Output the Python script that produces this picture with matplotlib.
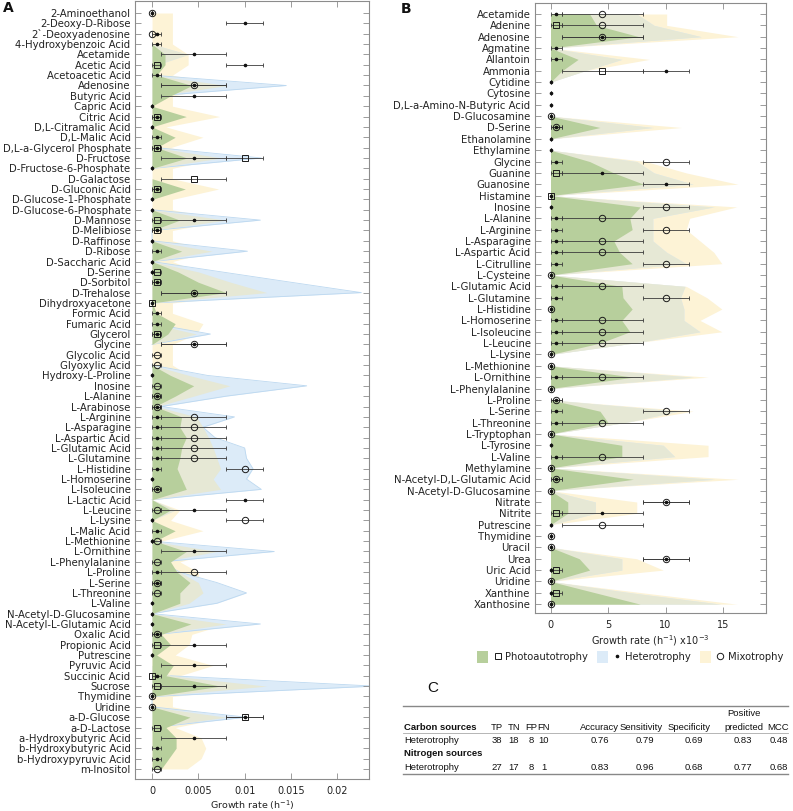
import numpy as np
import matplotlib
matplotlib.use("Agg")
import matplotlib.pyplot as plt
from matplotlib.patches import Patch
from matplotlib.lines import Line2D
from matplotlib.legend_handler import HandlerTuple

n = np.nan

# ---------------- Panel A : carbon sources (growth rate, 1e-3 h^-1) ----------------
a_labels = ["2-Aminoethanol", "2-Deoxy-D-Ribose", "2`-Deoxyadenosine", "4-Hydroxybenzoic Acid",
            "Acetamide", "Acetic Acid", "Acetoacetic Acid", "Adenosine", "Butyric Acid", "Capric Acid",
            "Citric Acid", "D,L-Citramalic Acid", "D,L-Malic Acid", "D,L-a-Glycerol Phosphate",
            "D-Fructose", "D-Fructose-6-Phosphate", "D-Galactose", "D-Gluconic Acid",
            "D-Glucose-1-Phosphate", "D-Glucose-6-Phosphate", "D-Mannose", "D-Melibiose",
            "D-Raffinose", "D-Ribose", "D-Saccharic Acid", "D-Serine", "D-Sorbitol", "D-Trehalose",
            "Dihydroxyacetone", "Formic Acid", "Fumaric Acid", "Glycerol", "Glycine", "Glycolic Acid",
            "Glyoxylic Acid", "Hydroxy-L-Proline", "Inosine", "L-Alanine", "L-Arabinose",
            "L-Arginine", "L-Asparagine", "L-Aspartic Acid", "L-Glutamic Acid", "L-Glutamine",
            "L-Histidine", "L-Homoserine", "L-Isoleucine", "L-Lactic Acid", "L-Leucine", "L-Lysine",
            "L-Malic Acid", "L-Methionine", "L-Ornithine", "L-Phenylalanine", "L-Proline",
            "L-Serine", "L-Threonine", "L-Valine", "N-Acetyl-D-Glucosamine",
            "N-Acetyl-L-Glutamic Acid", "Oxalic Acid", "Propionic Acid", "Putrescine",
            "Pyruvic Acid", "Succinic Acid", "Sucrose", "Thymidine", "Uridine", "a-D-Glucose",
            "a-D-Lactose", "a-Hydroxybutyric Acid", "b-Hydroxybutyric Acid",
            "b-Hydroxypyruvic Acid", "m-Inositol"]

a_photo_area = [0, 0, 0, 0, 1.4, 1.4, 0.5, 4.3, 2.0, 0,
                3.7, 0, 2.5, 0.5, 3.8, 0, 0, 3.6, 0, 0,
                3.0, 0, 0, 3.2, 0, 2.8, 5.0, 8.0, 0, 0.5,
                2.5, 1.7, 0, 0, 0, 2.0, 4.5, 2.5, 0.3, 3.2,
                3.0, 3.7, 3.2, 3.0, 2.7, 3.2, 3.7, 0, 2.0, 0,
                2.5, 0.3, 3.7, 2.0, 2.7, 4.1, 3.0, 3.0, 0, 4.2,
                1.0, 2.0, 0.5, 2.3, 1.5, 7.4, 0, 0, 4.1, 1.5,
                2.6, 2.6, 1.8, 1.0]
a_hetero_area = [0, 0, 0, 0, 3.9, 0.5, 0, 14.5, 0.5, 0,
                 0, 0, 0, 0.5, 11.8, 0, 0, 0, 0, 0,
                 11.7, 0, 0, 10.3, 0, 7.5, 15.0, 22.6, 0, 0,
                 0, 6.3, 0, 0, 0, 6.0, 16.7, 8.0, 1.0, 8.9,
                 5.5, 6.8, 10.0, 10.2, 10.9, 10.2, 11.8, 0, 2.5, 0,
                 0, 0, 13.2, 1.0, 3.0, 7.0, 10.2, 7.0, 0, 11.7,
                 0.5, 0, 0, 0, 2.0, 24.0, 0, 0, 10.2, 0,
                 0, 0, 0, 0]
a_mixo_area = [2.2, 2.2, 2.2, 2.2, 3.9, 3.9, 2.2, 8.1, 2.2, 2.2,
               7.3, 1.5, 5.5, 2.0, 7.5, 2.2, 2.2, 7.2, 2.2, 2.2,
               8.0, 2.2, 2.2, 6.5, 2.2, 5.0, 8.5, 12.4, 2.2, 2.2,
               5.5, 4.8, 2.2, 2.2, 2.2, 4.0, 8.4, 4.5, 0.5, 4.8,
               5.5, 6.1, 6.6, 7.0, 7.4, 6.6, 7.4, 0, 3.0, 2.0,
               5.5, 1.0, 7.0, 3.0, 5.0, 5.0, 5.5, 4.0, 0, 8.0,
               4.3, 4.0, 2.5, 6.6, 3.0, 12.4, 2.2, 2.2, 8.0, 2.5,
               5.3, 5.8, 5.3, 3.8]

a_photo = [n, n, n, n, n, .5, n, n, n, n,
           .5, n, n, .5, 10, n, 4.5, .5, n, n,
           .5, .5, n, n, n, .5, .5, n, 0, n,
           n, .5, n, n, n, n, n, n, n, n,
           n, n, n, n, n, n, n, n, n, n,
           n, n, n, n, n, n, n, n, n, n,
           n, .5, n, n, 0, .5, n, n, 10, .5,
           n, n, n, n]
a_photo_err = [n, n, n, n, n, .5, n, n, n, n,
               .5, n, n, .5, 2, n, 3.5, .5, n, n,
               .5, .5, n, n, n, .5, .5, n, 0, n,
               n, .5, n, n, n, n, n, n, n, n,
               n, n, n, n, n, n, n, n, n, n,
               n, n, n, n, n, n, n, n, n, n,
               n, .5, n, n, 0, .5, n, n, 2, .5,
               n, n, n, n]
a_hetero = [0, 10, .5, .5, 4.5, 10, .5, 4.5, 4.5, 0,
            .5, 0, .5, .5, 4.5, 0, n, .5, 0, 0,
            4.5, .5, 0, .5, 0, 0, .5, 4.5, 0, .5,
            .5, .5, 4.5, n, n, 0, n, .5, .5, .5,
            .5, .5, .5, .5, .5, 0, .5, 10, 4.5, 0,
            .5, 0, 4.5, n, .5, .5, n, 0, 0, 0,
            .5, 4.5, 0, 4.5, .5, 4.5, 0, 0, 10, n,
            4.5, .5, .5, n]
a_hetero_err = [0, 2, .5, .5, 3.5, 2, .5, 3.5, 3.5, 0,
                .5, 0, .5, .5, 3.5, 0, n, .5, 0, 0,
                3.5, .5, 0, .5, 0, 0, .5, 3.5, 0, .5,
                .5, .5, 3.5, n, n, 0, n, .5, .5, .5,
                .5, .5, .5, .5, .5, 0, .5, 2, 3.5, 0,
                .5, 0, 3.5, n, .5, .5, n, 0, 0, 0,
                .5, 3.5, 0, 3.5, .5, 3.5, 0, 0, 2, n,
                3.5, .5, .5, n]
a_mixo = [0, n, 0, n, n, n, n, 4.5, n, n,
          n, n, n, n, n, n, n, n, n, n,
          n, n, n, n, n, n, n, 4.5, n, n,
          n, n, 4.5, .5, .5, n, .5, .5, .5, 4.5,
          4.5, 4.5, 4.5, 4.5, 10, n, .5, n, .5, 10,
          n, .5, n, .5, 4.5, .5, .5, n, n, n,
          .5, n, n, n, n, n, 0, 0, n, n,
          n, n, n, .5]
a_mixo_err = [0, n, 0, n, n, n, n, 3.5, n, n,
              n, n, n, n, n, n, n, n, n, n,
              n, n, n, n, n, n, n, 3.5, n, n,
              n, n, 3.5, .5, .5, n, .5, .5, .5, 3.5,
              3.5, 3.5, 3.5, 3.5, 2, n, .5, n, .5, 2,
              n, .5, n, .5, 3.5, .5, .5, n, n, n,
              .5, n, n, n, n, n, 0, 0, n, n,
              n, n, n, .5]

# ---------------- Panel B : nitrogen sources (growth rate, 1e-3 h^-1) ----------------
b_labels = ["Acetamide", "Adenine", "Adenosine", "Agmatine", "Allantoin", "Ammonia", "Cytidine",
            "Cytosine", "D,L-a-Amino-N-Butyric Acid", "D-Glucosamine", "D-Serine", "Ethanolamine",
            "Ethylamine", "Glycine", "Guanine", "Guanosine", "Histamine", "Inosine", "L-Alanine",
            "L-Arginine", "L-Asparagine", "L-Aspartic Acid", "L-Citrulline", "L-Cysteine",
            "L-Glutamic Acid", "L-Glutamine", "L-Histidine", "L-Homoserine", "L-Isoleucine",
            "L-Leucine", "L-Lysine", "L-Methionine", "L-Ornithine", "L-Phenylalanine", "L-Proline",
            "L-Serine", "L-Threonine", "L-Tryptophan", "L-Tyrosine", "L-Valine", "Methylamine",
            "N-Acetyl-D,L-Glutamic Acid", "N-Acetyl-D-Glucosamine", "Nitrate", "Nitrite",
            "Putrescine", "Thymidine", "Uracil", "Urea", "Uric Acid", "Uridine", "Xanthine",
            "Xanthosine"]

b_photo_area = [3.4, 4.0, 7.7, 0, 2.4, 1.0, 0, 0, 0, 0,
                4.3, 0, 0, 3.4, 5.5, 8.1, 0, 7.8, 6.9, 7.1,
                5.5, 6.0, 7.1, 0, 6.2, 6.3, 7.1, 6.2, 6.9, 4.3,
                0, 0, 7.2, 0, 0, 4.3, 5.0, 0, 6.2, 6.2,
                0, 7.2, 0, 1.5, 1.5, 0, 0, 0, 2.5, 3.4,
                0, 3.9, 7.8]
b_hetero_area = [7.5, 9.0, 13.1, 0, 6.2, 3.0, 0, 0, 0, 0,
                 8.9, 0, 0, 7.5, 9.0, 12.4, 0, 14.2, 8.9, 8.9,
                 8.9, 10.1, 11.8, 0, 11.7, 11.3, 11.6, 11.6, 13.0, 7.2,
                 0, 0, 12.4, 0, 0, 11.1, 6.5, 0, 9.8, 10.8,
                 0, 14.2, 0, 3.9, 3.9, 0, 0, 0, 6.2, 6.2,
                 0, 7.0, 14.8]
b_mixo_area = [10.1, 10.1, 16.3, 0, 8.6, 3.0, 0, 0, 0, 0,
               11.4, 0, 0, 8.3, 11.8, 16.3, 0, 16.2, 12.1, 11.8,
               13.0, 14.2, 14.9, 0, 11.8, 13.6, 14.9, 13.0, 14.9, 7.2,
               0, 0, 13.7, 0, 0, 12.4, 6.5, 0, 13.7, 13.7,
               0, 16.3, 0, 7.5, 7.5, 0, 0, 0, 7.5, 9.8,
               0, 8.0, 16.2]

b_photo = [n, .5, n, n, n, 4.5, n, n, n, n,
           n, n, n, n, .5, n, 0, n, n, n,
           n, n, n, n, n, n, n, n, n, n,
           n, n, n, n, n, n, n, n, n, n,
           n, n, n, n, .5, n, n, n, n, .5,
           n, .5, n]
b_photo_err = [n, .5, n, n, n, 3.5, n, n, n, n,
               n, n, n, n, .5, n, 0, n, n, n,
               n, n, n, n, n, n, n, n, n, n,
               n, n, n, n, n, n, n, n, n, n,
               n, n, n, n, .5, n, n, n, n, .5,
               n, .5, n]
b_hetero = [.5, n, 4.5, .5, .5, 10, 0, 0, 0, 0,
            .5, 0, 0, .5, 4.5, 10, 0, 0, .5, .5,
            .5, .5, .5, 0, .5, .5, 0, .5, .5, .5,
            0, 0, .5, 0, .5, .5, .5, 0, 0, .5,
            0, .5, 0, 10, 4.5, 0, 0, 0, 10, 0,
            0, 0, 0]
b_hetero_err = [.5, n, 3.5, .5, .5, 2, 0, 0, 0, 0,
                .5, 0, 0, .5, 3.5, 2, 0, 0, .5, .5,
                .5, .5, .5, 0, .5, .5, 0, .5, .5, .5,
                0, 0, .5, 0, .5, .5, .5, 0, 0, .5,
                0, .5, 0, 2, 3.5, 0, 0, 0, 2, 0,
                0, 0, 0]
b_mixo = [4.5, 4.5, 4.5, n, n, n, n, n, n, 0,
          .5, n, n, 10, n, n, n, 10, 4.5, 10,
          4.5, 4.5, 10, 0, 4.5, 10, 0, 4.5, 4.5, 4.5,
          0, 0, 4.5, 0, .5, 10, 4.5, 0, n, 4.5,
          0, .5, 0, 10, n, 4.5, 0, 0, 10, n,
          0, n, 0]
b_mixo_err = [3.5, 3.5, 3.5, n, n, n, n, n, n, 0,
              .5, n, n, 2, n, n, n, 2, 3.5, 2,
              3.5, 3.5, 2, 0, 3.5, 2, 0, 3.5, 3.5, 3.5,
              0, 0, 3.5, 0, .5, 2, 3.5, 0, n, 3.5,
              0, .5, 0, 2, n, 3.5, 0, 0, 2, n,
              0, n, 0]

a_xticks = [0, 0.005, 0.01, 0.015, 0.02]
a_xticklabels = ["0", "0.005", "0.01", "0.015", "0.02"]
b_xticks = [0, 5, 10, 15]
b_xticklabels = ["0", "5", "10", "15"]

# ---------------- Panel C : table ----------------
c_columns = ["TP", "TN", "FP", "FN", "Accuracy", "Sensitivity", "Specificity", "predicted", "MCC"]
c_carbon = ["38", "18", "8", "10", "0.76", "0.79", "0.69", "0.83", "0.48"]
c_nitrogen = ["27", "17", "8", "1", "0.83", "0.96", "0.68", "0.77", "0.68"]

# ---------------- styling ----------------
W, H = 793, 811
C_GRN = "#b7cf9c"
C_BLU = "#dcebf8"
C_YEL = "#fdf3d6"
C_GRY = "#e6e8d5"
C_BLU_EDGE = "#bcd8f0"
AX_C = "#8c8c8c"
TXT = "#222222"

fig = plt.figure(figsize=(W / 100, H / 100), dpi=100)


def fx(px):
    return px / W


def fy(py):
    return 1 - py / H


def panel(ax, labels, g, b, yv, series, scale, blue_edge):
    yy = np.arange(len(labels))
    g = np.asarray(g, float) * scale
    b = np.asarray(b, float) * scale
    yv = np.asarray(yv, float) * scale
    ax.fill_betweenx(yy, 0, yv, color=C_YEL, lw=0, zorder=1)
    ax.fill_betweenx(yy, 0, b, color=C_BLU, lw=0, zorder=1.1)
    if blue_edge:
        nz = b > np.maximum(yv, 0)
        keep = nz | np.r_[nz[1:], False] | np.r_[False, nz[:-1]]
        ax.plot(np.where(keep, b, np.nan), yy, color=C_BLU_EDGE, lw=0.6, zorder=1.15)
    ax.fill_betweenx(yy, 0, np.minimum(b, yv), color=C_GRY, lw=0, zorder=1.2)
    ax.fill_betweenx(yy, 0, g, color=C_GRN, lw=0, zorder=1.3)
    for vals, errs, mk, ms in series:
        v = np.asarray(vals, float) * scale
        e = np.asarray(errs, float) * scale
        ax.errorbar(v, yy, xerr=e, fmt="none", ecolor="#3a3a3a", elinewidth=0.6,
                    capsize=1.3, capthick=0.6, zorder=3)
        if mk == ".":
            ax.plot(v, yy, ls="none", marker="o", ms=ms, color="#111111", zorder=4)
        else:
            ax.plot(v, yy, ls="none", marker=mk, ms=ms, mfc="none", mec="#1a1a1a",
                    mew=0.7, zorder=4)
    ax.set_yticks(yy)
    ax.set_yticklabels(labels)
    ax.tick_params(axis="both", direction="in", length=4, width=0.6, color=AX_C,
                   top=True, right=True, labelsize=7.3, labelcolor=TXT)
    ax.tick_params(axis="y", pad=3.2)
    ax.tick_params(axis="x", pad=5, labelsize=7.0)
    for s in ax.spines.values():
        s.set_color(AX_C)
        s.set_linewidth(0.8)


# Panel A
axA = fig.add_axes([fx(135), fy(779), fx(369) - fx(135), fy(1) - fy(779)])
panel(axA, a_labels, a_photo_area, a_hetero_area, a_mixo_area,
      [(a_photo, a_photo_err, "s", 3.8), (a_hetero, a_hetero_err, ".", 1.6),
       (a_mixo, a_mixo_err, "o", 4.6)], 1e-3, True)
axA.set_ylim(73.97, -1.16)
axA.set_xlim(-0.00184, 0.02343)
axA.set_xticks(a_xticks)
axA.set_xticklabels(a_xticklabels)
axA.set_xlabel("Growth rate (h$^{-1}$)", fontsize=6.8, color=TXT, labelpad=2)

# Panel B
axB = fig.add_axes([fx(535), fy(613), fx(766) - fx(535), fy(3) - fy(613)])
panel(axB, b_labels, b_photo_area, b_hetero_area, b_mixo_area,
      [(b_photo, b_photo_err, "s", 3.8), (b_hetero, b_hetero_err, ".", 1.6),
       (b_mixo, b_mixo_err, "o", 4.6)], 1.0, False)
axB.set_ylim(52.78, -0.97)
axB.set_xlim(-1.35, 18.74)
axB.set_xticks(b_xticks)
axB.set_xticklabels(b_xticklabels)
axB.set_xlabel("Growth rate (h$^{-1}$) x10$^{-3}$", fontsize=7.0, color=TXT, labelpad=2)

# Legend
h_photo = (Patch(facecolor=C_GRN, edgecolor="none"),
           Line2D([], [], ls="none", marker="s", ms=4, mfc="none", mec="#1a1a1a", mew=0.7))
h_het = (Patch(facecolor=C_BLU, edgecolor="none"),
         Line2D([], [], ls="none", marker="o", ms=1.6, color="#111111"))
h_mix = (Patch(facecolor=C_YEL, edgecolor="none"),
         Line2D([], [], ls="none", marker="o", ms=4.6, mfc="none", mec="#1a1a1a", mew=0.7))
fig.legend([h_photo, h_het, h_mix], ["Photoautotrophy", "Heterotrophy", "Mixotrophy"],
           handler_map={tuple: HandlerTuple(ndivide=None, pad=0.4)},
           loc="center", bbox_to_anchor=(fx(630), fy(657)), ncol=3, frameon=False,
           fontsize=7.2, handlelength=2.6, handleheight=1.4, handletextpad=0.2,
           columnspacing=0.9, labelcolor=TXT)

# Panel letters
fig.text(fx(8), fy(8), "A", fontsize=10, weight="bold", ha="center", va="center", color="#111")
fig.text(fx(406), fy(9), "B", fontsize=10, weight="bold", ha="center", va="center", color="#111")
fig.text(fx(433), fy(688), "C", fontsize=11, ha="center", va="center", color="#111",
         family="Liberation Sans")

# Table (panel C)
tf = dict(family="Liberation Sans", fontsize=6.8, color="#111", va="center")
col_x = [497, 514, 531, 543.5, 599, 641, 689, 744, 778]
val_x = [497, 514, 531, 543.5, 600, 645, 694, 743, 779]
fig.add_artist(Line2D([fx(403), fx(788)], [fy(706), fy(706)], color="#888", lw=1.0))
fig.add_artist(Line2D([fx(403), fx(788)], [fy(732.7), fy(732.7)], color="#aaa", lw=0.6))
fig.add_artist(Line2D([fx(403), fx(788)], [fy(774.3), fy(774.3)], color="#888", lw=1.0))
fig.text(fx(744), fy(713.5), "Positive", ha="center", **tf)
fig.text(fx(404), fy(727.5), "Carbon sources", ha="left", weight="bold", **tf)
for x, c in zip(col_x, c_columns):
    fig.text(fx(x), fy(727.5), c, ha="center", **tf)
fig.text(fx(404), fy(740.7), "Heterotrophy", ha="left", **tf)
for x, v in zip(val_x, c_carbon):
    fig.text(fx(x), fy(740.7), v, ha="center", **tf)
fig.text(fx(404), fy(754), "Nitrogen sources", ha="left", weight="bold", **tf)
fig.text(fx(404), fy(767.3), "Heterotrophy", ha="left", **tf)
for x, v in zip(val_x, c_nitrogen):
    fig.text(fx(x), fy(767.3), v, ha="center", **tf)

fig.savefig("out.png", dpi=100)
